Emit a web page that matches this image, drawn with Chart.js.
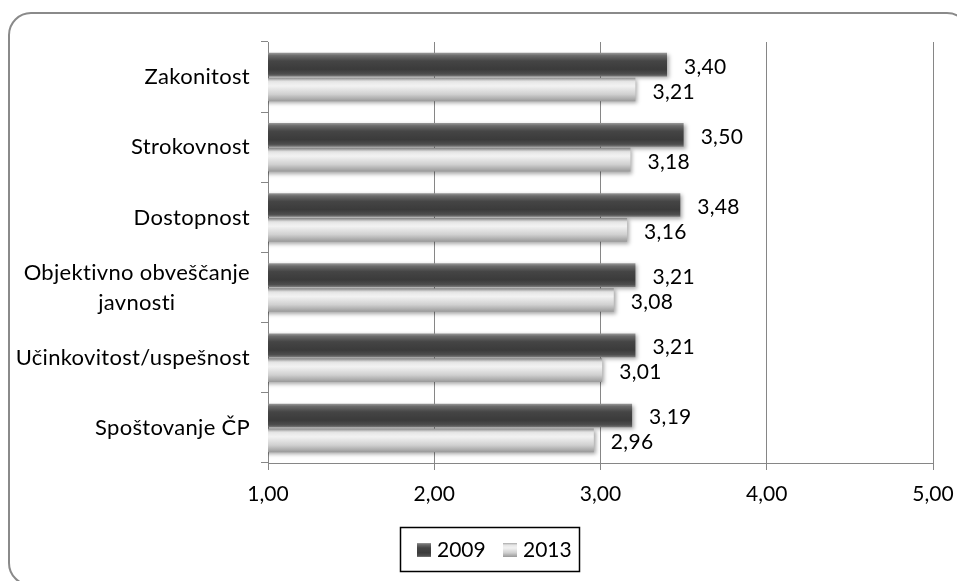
<!DOCTYPE html>
<html>
<head>
<meta charset="utf-8">
<script src="https://cdn.jsdelivr.net/npm/chart.js@4.4.0/dist/chart.umd.min.js"></script>
<style>
html, body { margin: 0; padding: 0; background: #fff; overflow: hidden; }
</style>
</head>
<body>
<canvas id="graf" width="957" height="581"></canvas>
<script>
const kategorije = [
    "Zakonitost",
    "Strokovnost",
    "Dostopnost",
    ["Objektivno obveščanje", "javnosti"],
    "Učinkovitost/uspešnost",
    "Spoštovanje ČP"
];
const leta = ["2009", "2013"];
const vrednosti2009 = [3.40, 3.50, 3.48, 3.21, 3.21, 3.19];
const vrednosti2013 = [3.21, 3.18, 3.16, 3.08, 3.01, 2.96];
const oznakeX = ["1,00", "2,00", "3,00", "4,00", "5,00"];

const pisava = "Lato";
const sivaCrta = "#868686";

// prelivi za "valjaste" stolpce
const prelivi = [
    [[0, "#9a9a9a"], [0.12, "#6a6a6a"], [0.35, "#454545"], [0.7, "#3b3b3b"], [0.9, "#4e4e4e"], [1, "#7a7a7a"]],
    [[0, "#a8a8a8"], [0.15, "#e6e6e6"], [0.35, "#f2f2f2"], [0.7, "#d0d0d0"], [1, "#999999"]]
];

const vejica = v => v.toFixed(2).replace(".", ",");

const preliv = (ctx, y0, y1, i) => {
    const g = ctx.createLinearGradient(0, y0, 0, y1);
    prelivi[i].forEach(([o, c]) => g.addColorStop(o, c));
    return g;
};

const dodatki = {
    id: "dodatki",
    beforeDatasetsDraw(chart) {
        const ctx = chart.ctx;
        chart.data.datasets.forEach((ds, i) => {
            chart.getDatasetMeta(i).data.forEach(el => {
                el.options.backgroundColor = preliv(ctx, el.y - el.height / 2, el.y + el.height / 2, i);
            });
        });
    },
    beforeDatasetDraw(chart) {
        const ctx = chart.ctx;
        ctx.save();
        ctx.shadowColor = "rgba(0,0,0,0.35)";
        ctx.shadowBlur = 4;
        ctx.shadowOffsetX = 2;
        ctx.shadowOffsetY = 2;
    },
    afterDatasetDraw(chart) {
        chart.ctx.restore();
    },
    afterDatasetsDraw(chart) {
        const ctx = chart.ctx;
        ctx.save();
        ctx.font = `21px ${pisava}`;
        ctx.letterSpacing = "0.3px";
        ctx.fillStyle = "#000";
        ctx.textAlign = "left";
        ctx.textBaseline = "alphabetic";
        chart.data.datasets.forEach((ds, i) => {
            chart.getDatasetMeta(i).data.forEach((el, j) => {
                ctx.fillText(vejica(ds.data[j]), el.x + 17, el.y + 9);
            });
        });
        ctx.restore();
    },
    afterDraw(chart) {
        const ctx = chart.ctx;
        const ys = chart.scales.y;
        ctx.save();

        // kategorije na levi
        ctx.font = `22px ${pisava}`;
        ctx.letterSpacing = "0.3px";
        ctx.fillStyle = "#000";
        ctx.textBaseline = "middle";
        ctx.textAlign = "center";
        kategorije.forEach((k, i) => {
            const yc = ys.getPixelForValue(i);
            const vrstice = Array.isArray(k) ? k : [k];
            const najsirsa = Math.max(...vrstice.map(v => ctx.measureText(v).width));
            const desno = ys.right - 18;
            vrstice.forEach((v, j) => {
                ctx.fillText(v, desno - najsirsa / 2, yc + (j - (vrstice.length - 1) / 2) * 30);
            });
        });
        ctx.letterSpacing = "0px";

        // legenda v okvirju
        ctx.font = `21px ${pisava}`;
        ctx.strokeStyle = "#000";
        ctx.lineWidth = 1.5;
        ctx.strokeRect(400.5, 527.5, 179, 44);
        const kvadrati = [417, 503];
        ctx.textAlign = "left";
        ctx.textBaseline = "alphabetic";
        leta.forEach((l, i) => {
            ctx.fillStyle = preliv(ctx, 543, 557, i);
            ctx.fillRect(kvadrati[i], 543, 14, 14);
            ctx.fillStyle = "#000";
            ctx.fillText(l, kvadrati[i] + 20, 557);
        });

        // zaobljen okvir grafa
        ctx.strokeStyle = "#8a8a8a";
        ctx.lineWidth = 2;
        ctx.beginPath();
        ctx.roundRect(9, 13, 960, 572, 22);
        ctx.stroke();
        ctx.restore();
    }
};

new Chart(document.querySelector("#graf"), {
    type: "bar",
    data: {
        labels: kategorije,
        datasets: [
            { label: leta[0], data: vrednosti2009, backgroundColor: () => "#444" },
            { label: leta[1], data: vrednosti2013, backgroundColor: () => "#ddd" }
        ]
    },
    options: {
        indexAxis: "y",
        responsive: false,
        animation: false,
        categoryPercentage: 0.71,
        barPercentage: 0.95,
        layout: { padding: { top: 42, right: 24, left: 0, bottom: 0 } },
        plugins: {
            legend: { display: false },
            tooltip: { enabled: false }
        },
        scales: {
            x: {
                min: 1,
                max: 5,
                ticks: {
                    stepSize: 1,
                    color: "#000",
                    font: { family: pisava, size: 21 },
                    padding: 12,
                    callback: (v, i) => oznakeX[i]
                },
                grid: { color: sivaCrta, tickLength: 7, lineWidth: 1 },
                border: { color: sivaCrta },
                afterFit: s => { s.height = 118; s.paddingLeft = 0; s.paddingRight = 0; }
            },
            y: {
                ticks: { display: false },
                grid: { offset: true, drawOnChartArea: false, color: sivaCrta, tickLength: 7 },
                border: { color: sivaCrta },
                afterFit: s => { s.width = 268; }
            }
        }
    },
    plugins: [dodatki]
});
</script>
</body>
</html>
